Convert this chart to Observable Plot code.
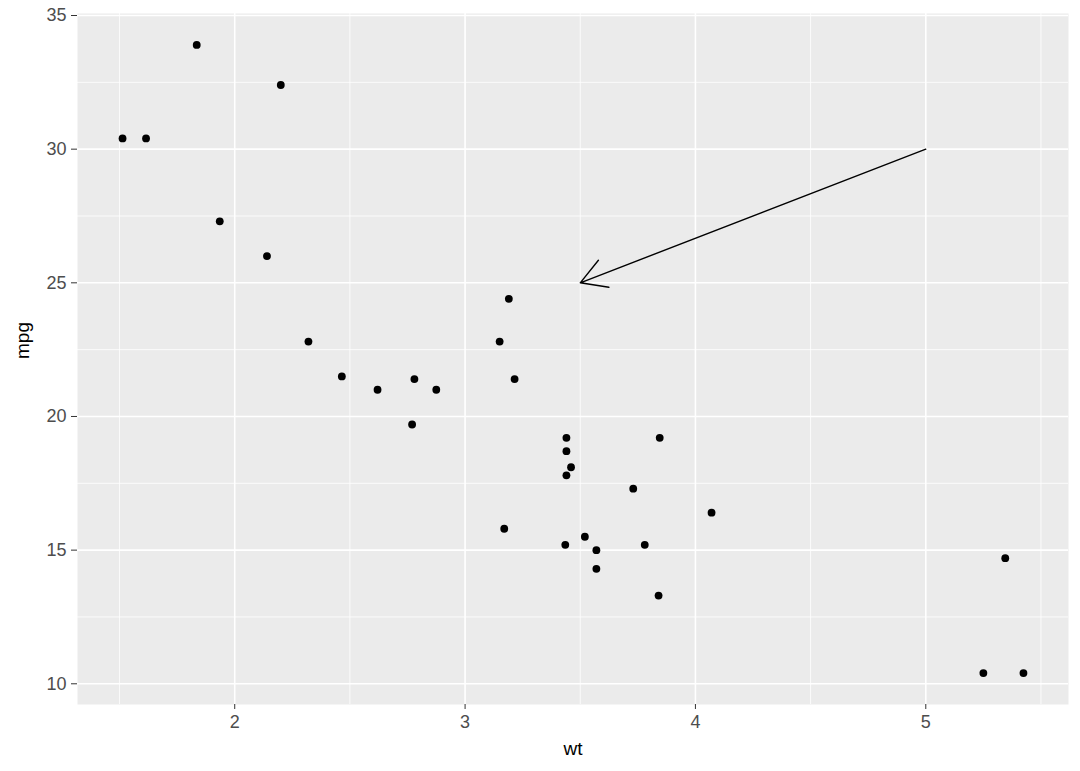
<!DOCTYPE html>
<html>
<head>
<meta charset="utf-8">
<script src="https://cdn.jsdelivr.net/npm/d3@7"></script>
<script src="https://cdn.jsdelivr.net/npm/@observablehq/plot@0.6"></script>
<style>
  html, body { margin: 0; padding: 0; background: #fff; }
  #chart svg { display: block; }
  #chart svg g[aria-label="x-axis tick label"] text,
  #chart svg g[aria-label="y-axis tick label"] text { font-size: 18px; }
</style>
</head>
<body>
<div id="chart"></div>
<script>
// mtcars: weight (1000 lbs) and miles per gallon
const wt  = [2.620, 2.875, 2.320, 3.215, 3.440, 3.460, 3.570, 3.190, 3.150, 3.440, 3.440, 4.070, 3.730, 3.780, 5.250, 5.424, 5.345, 2.200, 1.615, 1.835, 2.465, 3.520, 3.435, 3.840, 3.845, 1.935, 2.140, 1.513, 3.170, 2.770, 3.570, 2.780];
const mpg = [21.0, 21.0, 22.8, 21.4, 18.7, 18.1, 14.3, 24.4, 22.8, 19.2, 17.8, 16.4, 17.3, 15.2, 10.4, 10.4, 14.7, 32.4, 30.4, 33.9, 21.5, 15.5, 15.2, 13.3, 19.2, 27.3, 26.0, 30.4, 15.8, 19.7, 15.0, 21.4];

// annotation arrow (segment from start to end, head at end)
const arrowX1 = [5], arrowY1 = [30], arrowX2 = [3.5], arrowY2 = [25];

// ticks
const xTicks = [2, 3, 4, 5];
const yTicks = [10, 15, 20, 25, 30, 35];
const xMinor = [1.5, 2.5, 3.5, 4.5, 5.5];
const yMinor = [12.5, 17.5, 22.5, 27.5, 32.5];

const points = wt.map((w, i) => ({wt: w, mpg: mpg[i]}));
const arrows = arrowX1.map((x, i) => ({x1: x, y1: arrowY1[i], x2: arrowX2[i], y2: arrowY2[i]}));

// ggplot-style 5% expansion
const xr = d3.extent(wt), yr = d3.extent(mpg);
const xpad = (xr[1] - xr[0]) * 0.05, ypad = (yr[1] - yr[0]) * 0.05;

const chart = Plot.plot({
  width: 1080,
  height: 771,
  marginLeft: 77,
  marginRight: 12,
  marginTop: 13,
  marginBottom: 67,
  style: {fontFamily: "Arial, 'Liberation Sans', sans-serif", fontSize: "18px", background: "#fff"},
  x: {domain: [xr[0] - xpad, xr[1] + xpad]},
  y: {domain: [yr[0] - ypad, yr[1] + ypad]},
  marks: [
    Plot.frame({fill: "#EBEBEB", stroke: null}),
    Plot.ruleX(xMinor, {stroke: "#fff", strokeWidth: 0.8}),
    Plot.ruleY(yMinor, {stroke: "#fff", strokeWidth: 0.8}),
    Plot.ruleX(xTicks, {stroke: "#fff", strokeWidth: 1.6}),
    Plot.ruleY(yTicks, {stroke: "#fff", strokeWidth: 1.6}),
    Plot.axisX({ticks: xTicks, tickFormat: d => String(d), tickSize: 5, tickPadding: 6, fontSize: 18, color: "#4D4D4D", stroke: "#333", label: null}),
    Plot.axisY({ticks: yTicks, tickFormat: d => String(d), tickSize: 6, tickPadding: 5, fontSize: 18, color: "#4D4D4D", stroke: "#333", label: null}),
    Plot.text(["wt"], {frameAnchor: "bottom", dy: 50, fontSize: 19, fill: "#000"}),
    Plot.text(["mpg"], {frameAnchor: "left", dx: -55, rotate: -90, fontSize: 19, fill: "#000"}),
    Plot.dot(points, {x: "wt", y: "mpg", r: 3.9, fill: "#000", stroke: null}),
    Plot.arrow(arrows, {x1: "x1", y1: "y1", x2: "x2", y2: "y2", stroke: "#000", strokeWidth: 1.4, headAngle: 60, headLength: 31})
  ]
});
document.getElementById("chart").appendChild(chart);
</script>
</body>
</html>
